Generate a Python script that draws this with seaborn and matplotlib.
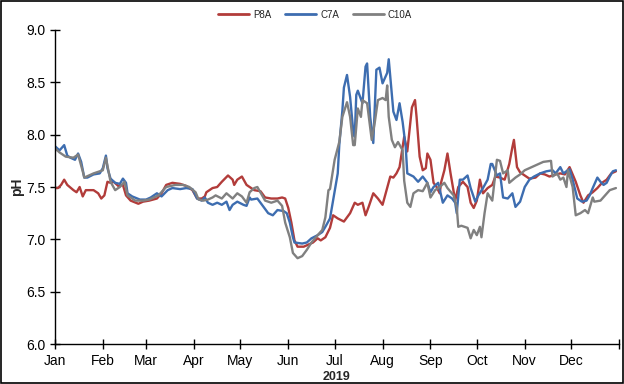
import matplotlib
matplotlib.use("Agg")
import matplotlib.pyplot as plt
import matplotlib.dates as mdates
from matplotlib.patches import Rectangle
import seaborn as sns
import pandas as pd

# day of year (0 = 1 Jan 2019) and pH
p8a_day = [0, 2, 4, 6, 8, 12, 14, 16, 18, 20, 25, 28, 30, 32, 34, 36, 38, 41, 44, 46,
           49, 54, 57, 61, 66, 69, 72, 76, 81, 85, 89, 92, 95, 97, 98, 102, 105, 108, 110, 112,
           115, 116, 118, 121, 124, 126, 129, 133, 136, 140, 144, 147, 149, 151, 153, 155, 157, 161, 164, 167,
           170, 172, 175, 178, 180, 183, 187, 191, 194, 196, 199, 201, 203, 206, 209, 212, 215, 217, 219, 221,
           223, 225, 226, 228, 231, 233, 234, 236, 238, 240, 241, 243, 245, 247, 249, 250, 252, 254, 256, 259,
           261, 264, 267, 269, 271, 273, 275, 277, 280, 283, 285, 288, 291, 294, 296, 297, 299, 301, 304, 307,
           311, 314, 317, 320, 324, 327, 330, 333, 337, 340, 342, 345, 348, 351, 354, 357, 360, 363]
p8a_ph = [7.49, 7.49, 7.52, 7.57, 7.52, 7.47, 7.45, 7.50, 7.41, 7.47, 7.47, 7.44, 7.39, 7.42, 7.55, 7.54, 7.55, 7.51, 7.52, 7.42,
          7.37, 7.34, 7.36, 7.37, 7.39, 7.44, 7.52, 7.54, 7.53, 7.51, 7.47, 7.39, 7.39, 7.41, 7.45, 7.49, 7.50, 7.55, 7.58, 7.61,
          7.57, 7.52, 7.57, 7.60, 7.52, 7.50, 7.47, 7.46, 7.40, 7.39, 7.39, 7.40, 7.39, 7.30, 7.16, 6.99, 6.93, 6.93, 6.95, 6.97,
          7.01, 6.99, 7.02, 7.11, 7.23, 7.20, 7.17, 7.25, 7.35, 7.33, 7.35, 7.23, 7.31, 7.44, 7.39, 7.33, 7.49, 7.60, 7.59, 7.63,
          7.69, 7.88, 7.98, 7.84, 8.26, 8.33, 8.17, 7.79, 7.66, 7.68, 7.82, 7.76, 7.54, 7.50, 7.44, 7.55, 7.66, 7.82, 7.63, 7.37,
          7.50, 7.55, 7.50, 7.35, 7.30, 7.37, 7.57, 7.44, 7.49, 7.52, 7.60, 7.59, 7.57, 7.72, 7.88, 7.95, 7.69, 7.64, 7.61, 7.58,
          7.59, 7.63, 7.62, 7.60, 7.62, 7.63, 7.62, 7.69, 7.55, 7.42, 7.35, 7.42, 7.45, 7.49, 7.54, 7.57, 7.63, 7.65]

c7a_day = [0, 3, 6, 8, 10, 13, 15, 17, 19, 21, 25, 29, 31, 33, 34, 36, 39, 42, 44, 46,
           47, 50, 55, 59, 62, 66, 69, 73, 76, 81, 85, 89, 92, 95, 97, 99, 102, 105, 108, 111,
           113, 115, 118, 122, 124, 126, 127, 131, 135, 138, 141, 144, 148, 150, 152, 154, 155, 160, 163, 166,
           170, 173, 175, 178, 180, 183, 184, 186, 187, 189, 191, 193, 194, 195, 196, 199, 201, 202, 204, 206,
           208, 210, 212, 215, 216, 217, 219, 221, 223, 225, 227, 228, 232, 235, 238, 241, 243, 245, 248, 251,
           254, 257, 259, 260, 262, 264, 267, 269, 272, 274, 277, 280, 282, 283, 286, 288, 290, 293, 296, 298,
           301, 304, 307, 310, 314, 318, 322, 324, 327, 329, 331, 333, 335, 338, 341, 344, 346, 348, 351, 353,
           355, 357, 359, 361, 363]
c7a_ph = [7.89, 7.85, 7.90, 7.80, 7.78, 7.76, 7.82, 7.74, 7.59, 7.59, 7.62, 7.63, 7.68, 7.80, 7.68, 7.58, 7.54, 7.53, 7.58, 7.54,
          7.44, 7.41, 7.38, 7.38, 7.40, 7.44, 7.41, 7.47, 7.49, 7.48, 7.49, 7.48, 7.39, 7.37, 7.40, 7.35, 7.33, 7.35, 7.33, 7.36,
          7.28, 7.33, 7.36, 7.33, 7.32, 7.40, 7.38, 7.39, 7.31, 7.25, 7.23, 7.28, 7.27, 7.25, 7.16, 7.02, 6.97, 6.96, 6.97, 7.01,
          7.04, 7.07, 7.12, 7.20, 7.37, 7.63, 7.90, 8.23, 8.45, 8.57, 8.36, 8.04, 7.98, 8.38, 8.42, 8.30, 8.65, 8.68, 8.17, 7.92,
          8.62, 8.64, 8.49, 8.59, 8.72, 8.55, 8.22, 8.14, 8.30, 8.12, 7.88, 7.63, 7.60, 7.55, 7.60, 7.54, 7.45, 7.50, 7.54, 7.35,
          7.42, 7.39, 7.35, 7.25, 7.57, 7.57, 7.61, 7.49, 7.36, 7.42, 7.49, 7.57, 7.72, 7.72, 7.61, 7.63, 7.40, 7.39, 7.44, 7.31,
          7.36, 7.50, 7.57, 7.60, 7.63, 7.65, 7.66, 7.63, 7.69, 7.63, 7.65, 7.67, 7.57, 7.39, 7.36, 7.37, 7.42, 7.49, 7.59, 7.55,
          7.52, 7.54, 7.60, 7.65, 7.66]

c10a_day = [0, 3, 7, 12, 15, 18, 19, 25, 31, 33, 36, 39, 42, 45, 47, 52, 57, 61, 67, 72,
            78, 83, 87, 91, 93, 96, 99, 102, 104, 108, 111, 115, 118, 121, 124, 126, 129, 131, 136, 140,
            144, 147, 149, 152, 154, 157, 160, 163, 166, 170, 173, 175, 177, 178, 181, 184, 186, 189, 191, 193,
            194, 196, 198, 199, 202, 205, 207, 209, 212, 214, 215, 216, 218, 220, 222, 225, 226, 228, 230, 232,
            235, 238, 241, 243, 246, 249, 252, 254, 258, 260, 261, 263, 267, 269, 271, 273, 275, 276, 278, 280,
            283, 284, 286, 288, 290, 293, 294, 298, 301, 304, 307, 310, 313, 316, 321, 322, 325, 327, 329, 331,
            332, 335, 337, 340, 343, 345, 348, 349, 353, 356, 359, 363]
c10a_ph = [7.87, 7.83, 7.79, 7.78, 7.81, 7.65, 7.59, 7.63, 7.66, 7.78, 7.55, 7.47, 7.50, 7.55, 7.42, 7.37, 7.37, 7.38, 7.42, 7.50,
           7.52, 7.52, 7.50, 7.45, 7.38, 7.37, 7.38, 7.40, 7.42, 7.39, 7.44, 7.39, 7.44, 7.41, 7.35, 7.45, 7.49, 7.50, 7.37, 7.35,
           7.37, 7.32, 7.16, 7.02, 6.87, 6.82, 6.84, 6.90, 6.97, 7.04, 7.09, 7.21, 7.47, 7.48, 7.76, 7.93, 8.17, 8.31, 8.17, 7.90,
           7.90, 8.25, 8.17, 8.33, 8.30, 7.95, 8.12, 8.33, 8.35, 8.33, 8.47, 8.17, 7.95, 7.88, 7.93, 7.85, 7.56, 7.35, 7.31, 7.44,
           7.47, 7.46, 7.54, 7.40, 7.47, 7.50, 7.54, 7.49, 7.42, 7.31, 7.12, 7.13, 7.11, 7.01, 7.09, 7.04, 7.12, 7.02, 7.25, 7.44,
           7.37, 7.50, 7.76, 7.75, 7.63, 7.66, 7.54, 7.59, 7.62, 7.66, 7.68, 7.70, 7.72, 7.74, 7.75, 7.60, 7.63, 7.57, 7.59, 7.50,
           7.66, 7.50, 7.23, 7.25, 7.28, 7.25, 7.40, 7.36, 7.37, 7.42, 7.47, 7.49]

series_names = ["P8A", "C7A", "C10A"]
series_colors = ["#B23C3A", "#3D6DB0", "#808080"]

start = pd.Timestamp("2019-01-01")
frames = []
for name, days, vals in zip(series_names, [p8a_day, c7a_day, c10a_day], [p8a_ph, c7a_ph, c10a_ph]):
    frames.append(pd.DataFrame({"date": start + pd.to_timedelta(days, unit="D"),
                                "pH": vals, "site": name}))
df = pd.concat(frames, ignore_index=True)

sns.set_style("white")
plt.rcParams["font.family"] = ["Liberation Sans", "DejaVu Sans"]

fig = plt.figure(figsize=(6.24, 3.84), dpi=100)
ax = fig.add_axes([0.088, 0.104, 0.904, 0.818])

sns.lineplot(data=df, x="date", y="pH", hue="site", hue_order=series_names,
             palette=series_colors, linewidth=1.7, ax=ax, legend=True)

ax.set_xlim(start, pd.Timestamp("2020-01-01"))
ax.set_ylim(6.0, 9.0)
ax.set_yticks([6.0, 6.5, 7.0, 7.5, 8.0, 8.5, 9.0])
ax.yaxis.set_major_formatter(plt.FormatStrFormatter("%.1f"))
ax.xaxis.set_major_locator(mdates.MonthLocator())
ax.xaxis.set_major_formatter(mdates.DateFormatter("%b"))
ax.tick_params(axis="both", direction="inout", length=7, width=1, colors="black",
               labelsize=10, pad=3, bottom=True, left=True)
ax.tick_params(axis="x", pad=4)
ax.xaxis.get_major_ticks()[-1].label1.set_visible(False)

for side in ["top", "right"]:
    ax.spines[side].set_visible(False)
for side in ["left", "bottom"]:
    ax.spines[side].set_color("black")
    ax.spines[side].set_linewidth(1)

ax.set_ylabel("pH", fontsize=10, fontweight="bold", labelpad=2)
ax.set_xlabel("2019", fontsize=9, fontweight="bold", labelpad=2)

leg = ax.legend(loc="center", bbox_to_anchor=(0.505, 0.962), bbox_transform=fig.transFigure,
                ncol=3, frameon=False, fontsize=7, handlelength=3.2, columnspacing=1.4,
                handletextpad=0.4)
for line in leg.get_lines():
    line.set_linewidth(2)

fig.patches.append(Rectangle((0.0015, 0.002), 0.997, 0.995, transform=fig.transFigure,
                             fill=False, edgecolor="black", linewidth=1.2))

fig.savefig("out.png", dpi=100)
